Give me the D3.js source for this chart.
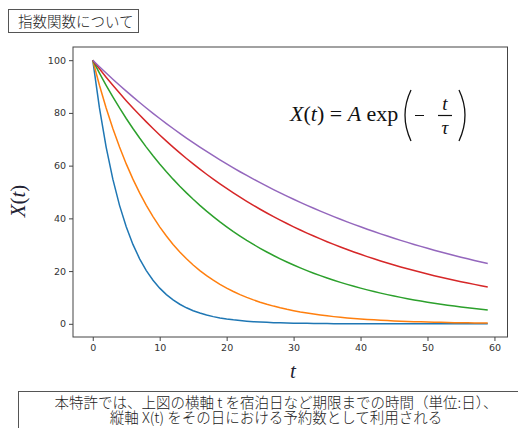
<!DOCTYPE html>
<html>
<head>
<meta charset="utf-8">
<script src="https://cdn.jsdelivr.net/npm/d3@7"></script>
<style>
  body { margin: 0; background: #fff; }
  svg { display: block; }
</style>
</head>
<body>
<div class="wrapper"></div>
<script>
width = 518;
height = 428;

// t = 0..59 (days)
days = d3.range(0, 60);

// values, one per day
blueVals = [100, 81.87, 67.03, 54.88, 44.93, 36.79, 30.12, 24.66, 20.19, 16.53,
  13.53, 11.08, 9.07, 7.43, 6.08, 4.98, 4.08, 3.34, 2.73, 2.24,
  1.83, 1.50, 1.23, 1.00, 0.82, 0.67, 0.55, 0.45, 0.37, 0.30,
  0.25, 0.20, 0.17, 0.14, 0.11, 0.09, 0.07, 0.06, 0.05, 0.04,
  0.03, 0.03, 0.02, 0.02, 0.02, 0.01, 0.01, 0.01, 0.01, 0.01,
  0.01, 0.01, 0.01, 0.00, 0.00, 0.00, 0.00, 0.00, 0.00, 0.00];
orangeVals = [100, 90.48, 81.87, 74.08, 67.03, 60.65, 54.88, 49.66, 44.93, 40.66,
  36.79, 33.29, 30.12, 27.25, 24.66, 22.31, 20.19, 18.27, 16.53, 14.96,
  13.53, 12.25, 11.08, 10.03, 9.07, 8.21, 7.43, 6.72, 6.08, 5.50,
  4.98, 4.50, 4.08, 3.69, 3.34, 3.02, 2.73, 2.47, 2.24, 2.02,
  1.83, 1.66, 1.50, 1.36, 1.23, 1.11, 1.01, 0.91, 0.82, 0.74,
  0.67, 0.61, 0.55, 0.50, 0.45, 0.41, 0.37, 0.33, 0.30, 0.27];
greenVals = [100, 95.12, 90.48, 86.07, 81.87, 77.88, 74.08, 70.47, 67.03, 63.76,
  60.65, 57.69, 54.88, 52.20, 49.66, 47.24, 44.93, 42.74, 40.66, 38.67,
  36.79, 34.99, 33.29, 31.66, 30.12, 28.65, 27.25, 25.92, 24.66, 23.46,
  22.31, 21.22, 20.19, 19.20, 18.27, 17.38, 16.53, 15.72, 14.96, 14.23,
  13.53, 12.87, 12.25, 11.65, 11.08, 10.54, 10.03, 9.54, 9.07, 8.63,
  8.21, 7.81, 7.43, 7.07, 6.72, 6.39, 6.08, 5.78, 5.50, 5.23];
redVals = [100, 96.72, 93.55, 90.48, 87.52, 84.65, 81.87, 79.19, 76.59, 74.08,
  71.65, 69.30, 67.03, 64.83, 62.71, 60.65, 58.66, 56.74, 54.88, 53.08,
  51.34, 49.66, 48.03, 46.46, 44.93, 43.46, 42.04, 40.66, 39.33, 38.04,
  36.79, 35.58, 34.42, 33.29, 32.20, 31.14, 30.12, 29.13, 28.18, 27.25,
  26.36, 25.50, 24.66, 23.85, 23.07, 22.31, 21.58, 20.87, 20.19, 19.53,
  18.89, 18.27, 17.67, 17.09, 16.53, 15.99, 15.46, 14.96, 14.47, 13.99];
purpleVals = [100, 97.53, 95.12, 92.77, 90.48, 88.25, 86.07, 83.94, 81.87, 79.85,
  77.88, 75.96, 74.08, 72.25, 70.47, 68.73, 67.03, 65.38, 63.76, 62.19,
  60.65, 59.15, 57.69, 56.27, 54.88, 53.53, 52.20, 50.91, 49.66, 48.43,
  47.24, 46.07, 44.93, 43.82, 42.74, 41.69, 40.66, 39.66, 38.67, 37.72,
  36.79, 35.88, 34.99, 34.13, 33.29, 32.47, 31.66, 30.88, 30.12, 29.38,
  28.65, 27.94, 27.25, 26.58, 25.92, 25.28, 24.66, 24.05, 23.46, 22.88];

seriesList = [blueVals, orangeVals, greenVals, redVals, purpleVals];
colors = ["#1f77b4", "#ff7f0e", "#2ca02c", "#d62728", "#9467bd"];

xTicks = [0, 10, 20, 30, 40, 50, 60];
yTicks = [0, 20, 40, 60, 80, 100];

titleText = "指数関数について";
noteLines = ["本特許では、上図の横軸 t を宿泊日など期限までの時間（単位:日）、",
  "縦軸 X(t) をその日における予約数として利用される"];

// plot area
plot = { left: 73, right: 507.5, top: 47, bottom: 337 };

scaleX = d3.scaleLinear().domain([-2.95, 61.95]).range([plot.left, plot.right]);
scaleY = d3.scaleLinear().domain([-5, 105]).range([plot.bottom, plot.top]);

svg = d3.select(".wrapper")
  .append("svg")
  .attr("width", width)
  .attr("height", height)
  .attr("viewBox", "0 0 " + width + " " + height);

/* Title box */
svg.append("rect")
  .attr("x", 8.5).attr("y", 9.5)
  .attr("width", 130).attr("height", 23)
  .attr("fill", "#fff")
  .attr("stroke", "#555");
svg.append("text")
  .attr("x", 18).attr("y", 27)
  .attr("font-family", "'Noto Sans CJK JP'")
  .attr("font-size", 14.5)
  .attr("font-weight", 300)
  .attr("fill", "#222")
  .text(titleText);

/* Axes */
xAxis = svg.append("g")
  .attr("transform", "translate(0," + plot.bottom + ")")
  .call(d3.axisBottom(scaleX).tickValues(xTicks).tickSize(4).tickPadding(3));
yAxis = svg.append("g")
  .attr("transform", "translate(" + plot.left + ",0)")
  .call(d3.axisLeft(scaleY).tickValues(yTicks).tickSize(4).tickPadding(3));

[xAxis, yAxis].forEach(function (ax) {
  ax.select(".domain").remove();
  ax.selectAll("line").attr("stroke", "#444");
  ax.selectAll("text")
    .attr("font-family", "'DejaVu Sans'")
    .attr("font-size", 9.5)
    .attr("fill", "#333");
});

svg.append("rect")
  .attr("x", plot.left).attr("y", plot.top)
  .attr("width", plot.right - plot.left)
  .attr("height", plot.bottom - plot.top)
  .attr("fill", "none")
  .attr("stroke", "#444")
  .attr("stroke-width", 1);

/* Curves */
line = d3.line()
  .x(function (d, i) { return scaleX(days[i]); })
  .y(function (d) { return scaleY(d); });

svg.selectAll(".curve")
  .data(seriesList)
  .enter().append("path")
  .classed("curve", true)
  .attr("d", line)
  .attr("fill", "none")
  .attr("stroke", function (d, i) { return colors[i]; })
  .attr("stroke-width", 1.5);

/* Axis labels */
svg.append("text")
  .attr("x", 293).attr("y", 378)
  .attr("text-anchor", "middle")
  .attr("font-family", "'Liberation Serif'")
  .attr("font-style", "italic")
  .attr("font-size", 21)
  .attr("fill", "#223")
  .text("t");

ylab = svg.append("text")
  .attr("transform", "translate(25,201) rotate(-90)")
  .attr("text-anchor", "middle")
  .attr("font-family", "'Liberation Serif'")
  .attr("font-size", 21)
  .attr("fill", "#223");
ylab.append("tspan").attr("font-style", "italic").text("X");
ylab.append("tspan").text("(");
ylab.append("tspan").attr("font-style", "italic").text("t");
ylab.append("tspan").text(")");

/* Formula */
formula = svg.append("g").attr("font-family", "'Liberation Serif'").attr("fill", "#111");
f1 = formula.append("text").attr("x", 290).attr("y", 121).attr("font-size", 22);
f1.append("tspan").attr("font-style", "italic").text("X");
f1.append("tspan").text("(");
f1.append("tspan").attr("font-style", "italic").text("t");
f1.append("tspan").text(") = ");
f1.append("tspan").attr("font-style", "italic").text("A");
f1.append("tspan").text(" exp");
// large thin parentheses
formula.append("path")
  .attr("d", "M411,90 Q399,115 411,141")
  .attr("fill", "none").attr("stroke", "#111").attr("stroke-width", 1.3);
formula.append("path")
  .attr("d", "M459,90 Q471,115 459,141")
  .attr("fill", "none").attr("stroke", "#111").attr("stroke-width", 1.3);
formula.append("line")
  .attr("x1", 415).attr("x2", 424).attr("y1", 115.5).attr("y2", 115.5)
  .attr("stroke", "#111").attr("stroke-width", 1);
formula.append("text")
  .attr("x", 445).attr("y", 110).attr("text-anchor", "middle")
  .attr("font-size", 19).attr("font-style", "italic").text("t");
formula.append("line")
  .attr("x1", 438).attr("x2", 452).attr("y1", 115.5).attr("y2", 115.5)
  .attr("stroke", "#111").attr("stroke-width", 1.2);
formula.append("text")
  .attr("x", 445).attr("y", 134).attr("text-anchor", "middle")
  .attr("font-size", 19).attr("font-style", "italic").text("τ");

/* Note box */
svg.append("rect")
  .attr("x", 18.5).attr("y", 391.5)
  .attr("width", 520).attr("height", 60)
  .attr("fill", "#fff")
  .attr("stroke", "#555");
note = svg.append("text")
  .attr("text-anchor", "middle")
  .attr("font-family", "'Noto Sans CJK JP'")
  .attr("font-size", 14.5)
  .attr("font-weight", 300)
  .attr("fill", "#222");
note.selectAll("tspan")
  .data(noteLines)
  .enter().append("tspan")
  .attr("x", 276)
  .attr("y", function (d, i) { return 408 + i * 14.5; })
  .text(function (d) { return d; });
</script>
</body>
</html>
